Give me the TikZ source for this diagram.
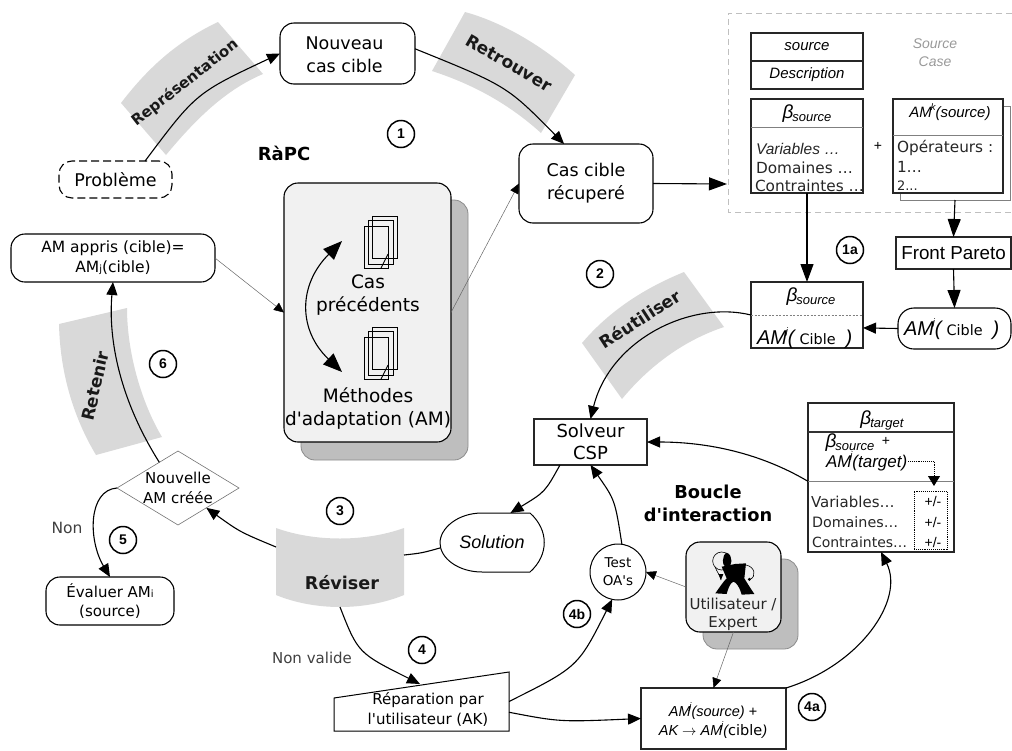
\documentclass[tikz,border=0pt]{standalone}
\usepackage{fontspec}
\setmainfont[Ligatures=TeXOff]{DejaVu Sans}
\newfontfamily\arl{Liberation Sans}
\usetikzlibrary{arrows.meta,shapes.geometric,calc}
\definecolor{bandc}{HTML}{D9D9D9}
\definecolor{shadc}{HTML}{BEBEBE}
\definecolor{panelc}{HTML}{F1F1F1}
\newcommand{\fs}[2]{\fontsize{#1}{#2}\selectfont}
\newcommand{\amit}[1][17]{{\arl\itshape\fs{#1}{#1}AM\kern-1.2pt\raisebox{0.5em}{\fs{9.5}{9.5}j}}}
\newcommand{\bsub}[1]{{\arl\itshape\fs{19}{19}β\kern-1pt\raisebox{-3pt}{\fs{13}{13}#1}}}
\tikzset{
  x=1pt,y=-1pt,
  every node/.style={inner sep=0pt,outer sep=0pt,align=center},
  rbox/.style={draw=black,line width=1.1pt,rounded corners=14pt,fill=white},
  sbox/.style={draw=black!85,line width=1.1pt,fill=white},
  band/.style={fill=bandc,draw=none},
  shad/.style={fill=shadc,draw=black!45,line width=.8pt,rounded corners=14pt},
  panel/.style={fill=panelc,draw=black,line width=1.1pt,rounded corners=14pt},
  conn/.style={line width=1.1pt,draw=black,-{Triangle[length=13pt,width=11pt]}},
  bigconn/.style={line width=1.1pt,draw=black,-{Triangle[length=18pt,width=13pt]}},
  plainconn/.style={line width=1.1pt,draw=black},
  thin conn/.style={line width=.5pt,draw=black!60,-{Triangle[length=10pt,width=9pt,color=black]}},
  num/.style={circle,draw=black,line width=1.5pt,minimum size=27pt,fill=white,font=\arl\bfseries\fs{14}{14}},
  bandlab/.style={font=\bfseries\fs{17}{17},text=black!90},
  boldlab/.style={font=\bfseries\fs{15}{23}},
  main/.style={font=\fs{17.5}{23}},
  mid/.style={font=\fs{15}{19.5}},
  itl/.style={font=\arl\itshape\fs{15}{15}},
  sm/.style={font=\fs{15.3}{15.3},anchor=base west,text=black!85},
  doc/.style={draw=black,line width=.9pt},
}
\begin{document}
\begin{tikzpicture}
\useasboundingbox (0,0) rectangle (1012,750);
% ---- bands
\fill[band] (121,103) .. controls (150,65) and (180,40) .. (218,22) -- (263,74) .. controls (225,90) and (195,120) .. (166,155) -- cycle;
\fill[band] (465,12) .. controls (505,23) and (545,48) .. (575,75) -- (541,133) .. controls (510,105) and (475,85) .. (432,71) -- cycle;
\fill[band] (582,343) .. controls (610,310) and (645,288) .. (684,272) -- (724,327) .. controls (685,340) and (650,365) .. (622,399) -- cycle;
\fill[band] (59,324) -- (127,308) .. controls (127,350) and (140,400) .. (162,437) -- (96,455) .. controls (72,415) and (60,370) .. (59,324) -- cycle;
\fill[band] (276,528) .. controls (315,542) and (365,542) .. (404,528) -- (404,595) .. controls (365,611) and (315,611) .. (276,595) -- cycle;
% ---- source case frame
\draw[draw=black!25,dashed,line width=.7pt,dash pattern=on 6pt off 4pt] (1012,13) -- (728,13) -- (728,212) -- (1012,212);
\coordinate (caseIn) at (727,184);
% ---- shadows and panels
\node[shad,minimum width=167pt,minimum height=260pt] (panS) at (384.5,330) {};
\node[panel,minimum width=167pt,minimum height=259pt] (pan) at (367.5,312.5) {};
\node[shad,minimum width=95pt,minimum height=90pt] (utiS) at (750.5,604) {};
\node[panel,minimum width=95pt,minimum height=90pt] (uti) at (733.5,587) {};
% ---- document icons
\foreach \o/\n in {0/a,111/b}{
  \draw[doc] (372,216+\o) rectangle (397,258+\o);
  \draw[doc] (368,220+\o) rectangle (393,264+\o);
  \draw[doc] (364,226+\o) rectangle (388,268+\o);
  \draw[doc] (388,254+\o) -- (381,268+\o);
}
\node[main,font=\fs{18.5}{23}] (casprec) at (368,295.5) {Cas\\précédents};
\node[main,font=\fs{18.5}{23}] (meth) at (368,408.5) {Méthodes\\d'adaptation (AM)};
% ---- process nodes
\node[rbox,dashed,dash pattern=on 8pt off 4pt,rounded corners=13pt,minimum width=113pt,minimum height=37pt,main] (prob) at (115.5,179.5) {Problème};
\node[rbox,minimum width=135pt,minimum height=61pt] (nouv) at (347.5,53.5) {};
\node[main] (nouvt) at (344.5,55) {Nouveau\\cas cible};
\node[rbox,minimum width=134pt,minimum height=79pt,main] (cas) at (586,183.5) {Cas cible\\récuperé};
\node[rbox,minimum width=204pt,minimum height=48pt,font=\fs{15.5}{20}] (app) at (113,258) {AM appris (cible)=\\AM{\fs{10}{10}j}(cible)};
\node[rbox,minimum width=128pt,minimum height=48pt,mid] (eval) at (110,601) {Évaluer AM{\fs{10}{10}i}\\(source)};
\node[diamond,draw=black!55,line width=.6pt,fill=white,minimum width=122pt,minimum height=74pt] (dia) at (178,488) {};
\node[font=\fs{15}{20}] (diat) at (178,487.5) {Nouvelle\\AM créée};
\node[sbox,minimum width=113pt,minimum height=46pt,font=\fs{18}{22}] (solv) at (590.5,442) {Solveur\\CSP};
% solution
\draw[line width=1pt,fill=white] (482,513) -- (530,513) .. controls (549,530) and (549,555) .. (530,572) -- (482,572) .. controls (458,572) and (440,558) .. (440,543) .. controls (440,528) and (458,513) .. (482,513) -- cycle;
\node[minimum width=104pt,minimum height=59pt,font=\arl\itshape\fs{18}{18}] (sol) at (492,542.5) {Solution};
% reparation
\draw[line width=1pt,fill=white] (334,698) -- (509,672) -- (509,731) -- (334,731) -- cycle;
\node[minimum width=175pt,minimum height=59pt] (rep) at (421.5,701.5) {};
\node[font=\fs{15}{19.5}] (rept) at (428,709.5) {Réparation par\\l'utilisateur (AK)};
\coordinate (repTop) at (420,684);
% test
\node[circle,draw=black,line width=1pt,fill=white,minimum size=56pt,font=\fs{13.5}{18}] (test) at (618,572) {Test\\OA's};
% AM box
\node[sbox,minimum width=145pt,minimum height=61pt,font=\arl\itshape\fs{14.5}{19}] (ambox) at (713.5,718.5) {};
\node[font=\arl\itshape\fs{14.5}{19}] (amboxt) at (713,720.5) {\amit[14.5](source) +\\AK $\rightarrow$ \amit[14.5]({\rmfamily\upshape cible})};
% ---- source case contents
\node[sbox,minimum width=112pt,minimum height=28pt,itl] (src1) at (807,47) {source};
\node[sbox,minimum width=112pt,minimum height=28pt,itl] (src2) at (807,75) {Description};
\node[font=\arl\itshape\fs{14}{18},text=black!40] (srccase) at (935,53) {Source\\Case};
\node[sbox,minimum width=112pt,minimum height=94pt] (bsrc) at (807,146) {};
\draw[draw=black!50,line width=.6pt] (bsrc.west |- 0,127) -- (bsrc.east |- 0,127);
\node (bsrct) at (807,114) {\bsub{source}};
\node[sm,font=\arl\itshape\fs{15.5}{15.5}] (v1) at (756,154) {Variables …};
\node[sm] (d1) at (756,173) {Domaines …};
\node[sm] (c1) at (755,191) {Contraintes …};
\node[font=\arl\fs{14}{14}] (plus1) at (878,146) {+};
\node[draw=black!50,fill=white,line width=.8pt,minimum width=110pt,minimum height=94pt] (amkS) at (955,153) {};
\node[sbox,minimum width=110pt,minimum height=94pt] (amk) at (948,146) {};
\draw[draw=black!50,line width=.6pt] (amk.west |- 0,135) -- (amk.east |- 0,135);
\node[font=\arl\itshape\fs{15}{15}] (amkt) at (950,112) {AM\kern-1.2pt\raisebox{0.5em}{\fs{9.5}{9.5}k}(source)};
\node[sm] (op) at (897,152) {Opérateurs :};
\node[sm] (o1) at (897,172) {1…};
\node[sm,font=\fs{13}{13}] (o2) at (897,190) {2...};
\node[sbox,minimum width=115pt,minimum height=32pt,font=\arl\fs{18.8}{19}] (front) at (953.5,253) {Front Pareto};
% AMj nodes
\node[rbox,rounded corners=16pt,minimum width=113pt,minimum height=41pt] (amj) at (954.5,328.5) {};
\node[anchor=base west] (amjt) at (904,335) {\amit[20]{\arl\itshape\fs{20}{20}(}\kern5pt{\fs{14.4}{14.4}Cible}\kern10pt{\arl\itshape\fs{20}{20})}};
\node[sbox,minimum width=112pt,minimum height=66pt] (bt) at (807,315) {};
\draw[draw=black!50,line width=.6pt,dash pattern=on 2pt off 1.5pt] (bt.west) -- (bt.east);
\node (btt) at (811,297) {\bsub{source}};
\node[anchor=base west] (btl) at (757,344) {\amit[20]{\arl\itshape\fs{20}{20}(}\kern5pt{\fs{14.4}{14.4}Cible}\kern10pt{\arl\itshape\fs{20}{20})}};
% target box
\node[sbox,minimum width=146pt,minimum height=149pt] (tg) at (881,477.5) {};
\draw[draw=black!80,line width=1.1pt] (tg.west |- 0,432) -- (tg.east |- 0,432);
\draw[draw=black!50,line width=.6pt] (tg.west |- 0,481) -- (tg.east |- 0,481);
\node (tg1) at (882,420) {\bsub{target}};
\node (tg2) at (850,443) {\bsub{source}};
\node[font=\arl\fs{14}{14}] (tg3) at (886,441) {+};
\node[anchor=base west,font=\arl\itshape\fs{17}{17}] (tg4) at (826,467) {\amit(target)};
\node[sm,font=\fs{15}{15}] (tv) at (811,507) {Variables…};
\node[sm,font=\fs{14.3}{15}] (td) at (812,527) {Domaines…};
\node[sm,font=\fs{14}{15}] (tc) at (812,547) {Contraintes…};
\node[font=\arl\fs{14}{14}] (pm1) at (933,501) {+/-};
\node[font=\arl\fs{14}{14}] (pm2) at (933,522) {+/-};
\node[font=\arl\fs{14}{14}] (pm3) at (933,542) {+/-};
\node[draw=black,densely dotted,line width=.9pt,minimum width=33pt,minimum height=58pt] (tdot) at (930.5,520) {};
\coordinate (dotA) at (908,461);
\coordinate (dotB) at (934,461);
\coordinate (dotC) at (934,486);
\draw[densely dotted,line width=.9pt,-{Triangle[length=10pt,width=12pt]}] (dotA) -- (dotB) -- (dotC);
% ---- user icon
\begin{scope}[shift={(500,390)},scale=1/3]
  \draw[line width=.6pt] (665,513) circle (27);
  \fill (680,488) .. controls (700,495) and (698,530) .. (680,532) .. controls (665,530) and (665,495) .. (680,488) -- cycle;
  \fill (665,530) -- (705,522) -- (738,520) -- (733,565) .. controls (745,585) and (755,600) .. (763,612) -- (725,614) .. controls (718,590) and (710,578) .. (700,575) .. controls (690,578) and (683,600) .. (680,612) -- (646,610) .. controls (660,590) and (670,575) .. (680,565) -- cycle;
  \draw[line width=.6pt] (738,525) .. controls (765,530) and (770,560) .. (750,568);
  \fill (748,568) circle (5);
  \draw[line width=.6pt] (645,530) .. controls (650,545) and (660,555) .. (663,570);
  \fill (655,552) -- (670,552) -- (663,570) -- cycle;
\end{scope}
\node[font=\fs{15}{18},text=black!85] (utit) at (733,614) {Utilisateur /\\Expert};
% ---- band labels
\node[bandlab,font=\bfseries\fs{15}{15},rotate=38] (bl1) at (185,83) {Représentation};
\node[bandlab,rotate=-30] (bl2) at (509,63) {Retrouver};
\node[bandlab,rotate=33] (bl3) at (640,319) {Réutiliser};
\node[bandlab,rotate=77] (bl4) at (95,386) {Retenir};
\node[bandlab,font=\bfseries\fs{17.6}{18}] (bl5) at (342,583) {Réviser};
\node[boldlab,font=\bfseries\fs{18}{18}] (rapc) at (284,153) {RàPC};
\node[boldlab,font=\bfseries\fs{17.8}{23}] (boucle) at (708,503) {Boucle\\d'interaction};
\node[font=\fs{15.5}{16},text=black!75] (non) at (67,528) {Non};
\node[font=\fs{15}{16},text=black!75] (nonv) at (312,658) {Non valide};
% ---- number badges
\node[num] (n1) at (401,134) {1};
\node[num] (n1a) at (850,250) {1a};
\node[num] (n2) at (600,274) {2};
\node[num] (n3) at (340,511) {3};
\node[num] (n4) at (422,650) {4};
\node[num] (n4a) at (812,707) {4a};
\node[num] (n4b) at (577,614) {4b};
\node[num] (n5) at (123,540) {5};
\node[num] (n6) at (163,364) {6};
% ---- band edge coordinates
\coordinate (revL) at (276,547);
\coordinate (revR) at (404,555);
\coordinate (revB) at (340,607);
% ---- connectors
\draw[conn] (prob.32) .. controls (196,93) .. (nouv.west);
\draw[conn] (nouv.4) .. controls (507,86) .. (cas.119);
\draw[bigconn] (cas.east) -- (caseIn);
\draw[thin conn] (pan.east) -- (cas.west);
\draw[thin conn] (app.east) -- (pan.west);
\draw[bigconn] (bsrc.south) -- (bt.north);
\draw[bigconn] (amkS.south) -- (front.north);
\draw[bigconn] (front.south) -- (amj.north);
\draw[conn] (amj.west) -- (bt.-13);
\draw[conn] (bt.west) .. controls (690,300) and (610,340) .. (solv.north);
\draw[conn] (tg.183) .. controls (755,450) and (700,442) .. (solv.east);
\draw[conn] (solv.-143) .. controls (545,492) .. (sol.58);
\draw[conn] (test.82) .. controls (615,500) .. (solv.south);
\draw[plainconn] (sol.186) .. controls (422,553) .. (revR);
\draw[conn] (revL) .. controls (240,532) .. (dia.-35);
\draw[conn] (revB) .. controls (358,653) .. (repTop);
\draw[conn] (rep.east) .. controls (578,667) .. (test.-102);
\draw[conn] (rep.-7) .. controls (560,722) .. (ambox.west);
\draw[conn] (ambox.north east) .. controls (860,665) and (905,600) .. (tg.south);
\draw[conn] (dia.126) .. controls (120,400) and (108,340) .. (app.south);
\draw[conn] (dia.west) .. controls (88,490) and (88,540) .. (eval.north);
\draw[thin conn] (uti.west) -- (test.east);
\draw[thin conn] (uti.south) -- (ambox.north);
% ---- arrow inside panel
\coordinate (arrT) at (342,241);
\coordinate (arrB) at (342,372);
\draw[line width=1.1pt,{Triangle[length=19pt,width=15pt]}-{Triangle[length=19pt,width=15pt]}] (arrT) .. controls (298,285) and (298,330) .. (arrB);
\end{tikzpicture}
\end{document}
